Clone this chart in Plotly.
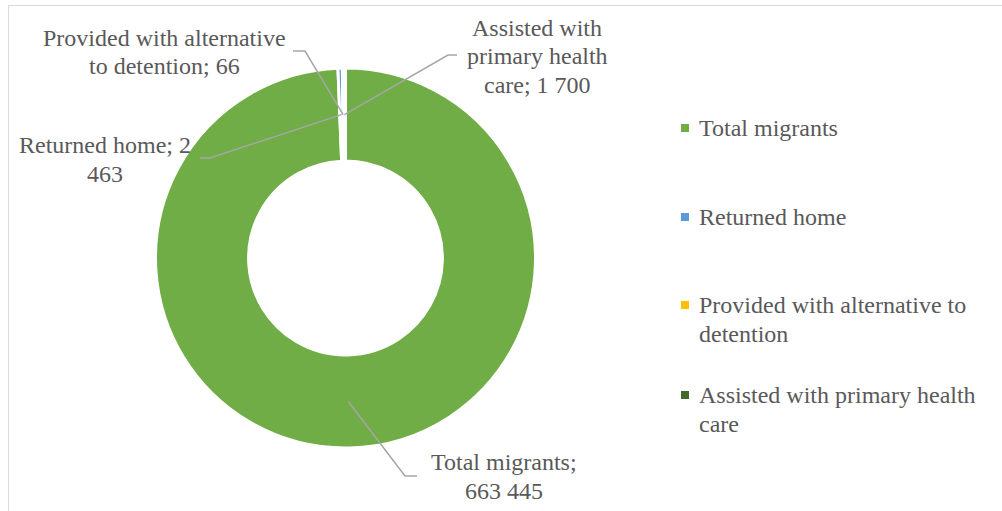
import math
import textwrap
import numpy as np
import plotly.graph_objects as go

# ---------------- data ----------------
categories = ["Total migrants", "Returned home",
              "Provided with alternative to detention",
              "Assisted with primary health care"]
values = [663445, 2463, 66, 1700]
colors = ["#70AD47", "#5B9BD5", "#FFC000", "#43682B"]

# ---------------- layout constants ----------------
W, H = 1002, 511
CX, CY, R = 345.5, 258.0, 190.0
HOLE = 0.51
FONT = "Liberation Serif"
FSIZE = 24
TXT = "#595959"
LINE_H = 28.5

def px(x):
    return x / W

def py(y):
    return 1 - y / H

fig = go.Figure(go.Pie(
    labels=categories,
    values=values,
    sort=False,
    direction="clockwise",
    rotation=0,
    hole=HOLE,
    marker=dict(colors=colors, line=dict(color="white", width=3)),
    textinfo="none",
    hoverinfo="label+value",
    showlegend=False,
    domain=dict(x=[px(CX - R), px(CX + R)], y=[py(CY + R), py(CY - R)]),
))

# anchor points of leader lines: middle of each slice at mid-ring radius
vals = np.array(values, dtype=float)
total = vals.sum()
mid_frac = (np.cumsum(vals) - vals / 2) / total
r_mid = (R + R * HOLE) / 2
anchors = [(CX + r_mid * math.sin(2 * math.pi * f), CY - r_mid * math.cos(2 * math.pi * f))
           for f in mid_frac]

# label layout (pixel positions of label text and leader bends)
label_wrap = [15, 16, 25, 14]
label_pos = [(504, 462), (105, 145), (164, 38), (537, 28)]
leader_bends = [[(405, 476), (417, 476)],
                [(210, 158), (200, 158)],
                [(305, 51), (293, 51)],
                [(448, 55), (457, 55)]]

def fmt(v):
    return f"{v:,}".replace(",", " ")

shapes = []
annotations = []
for i, cat in enumerate(categories):
    text = f"{cat}; {fmt(values[i])}"
    lines = textwrap.wrap(text, width=label_wrap[i])
    x0, y0 = label_pos[i]
    for k, ln in enumerate(lines):
        annotations.append(dict(
            x=px(x0), y=py(y0 + k * LINE_H), xref="paper", yref="paper",
            text=ln, showarrow=False, xanchor="center", yanchor="middle",
            font=dict(family=FONT, size=FSIZE, color=TXT)))
    pts = [anchors[i]] + leader_bends[i]
    path = "M " + " L ".join(f"{px(a)},{py(b)}" for a, b in pts)
    shapes.append(dict(type="path", path=path, xref="paper", yref="paper",
                       line=dict(color="#A6A6A6", width=1.5)))

# manual legend
legend_x_marker = 685
legend_x_text = 697
legend_rows = [128, 217, 305, 395]
for i, cat in enumerate(categories):
    y0 = legend_rows[i]
    shapes.append(dict(type="rect", xref="paper", yref="paper",
                       x0=px(legend_x_marker - 4), x1=px(legend_x_marker + 4),
                       y0=py(y0 + 4), y1=py(y0 - 4),
                       fillcolor=colors[i], line=dict(width=0)))
    for k, ln in enumerate(textwrap.wrap(cat, width=28)):
        annotations.append(dict(
            x=px(legend_x_text), y=py(y0 + k * LINE_H), xref="paper", yref="paper",
            text=ln, showarrow=False, xanchor="left", yanchor="middle",
            font=dict(family=FONT, size=FSIZE, color=TXT)))

# chart-area border (left and top edges visible)
shapes.append(dict(type="line", xref="paper", yref="paper",
                   x0=px(8.5), x1=px(8.5), y0=py(5.5), y1=0,
                   line=dict(color="#D9D9D9", width=1)))
shapes.append(dict(type="line", xref="paper", yref="paper",
                   x0=px(8.5), x1=1, y0=py(5.5), y1=py(5.5),
                   line=dict(color="#D9D9D9", width=1)))

fig.update_layout(
    width=W, height=H, autosize=False,
    margin=dict(l=0, r=0, t=0, b=0),
    paper_bgcolor="white", plot_bgcolor="white",
    shapes=shapes, annotations=annotations,
    showlegend=False,
)

fig.write_html("out.html",
               config={"displayModeBar": False},
               post_script="document.body.style.margin='0';document.body.style.overflow='hidden';")
